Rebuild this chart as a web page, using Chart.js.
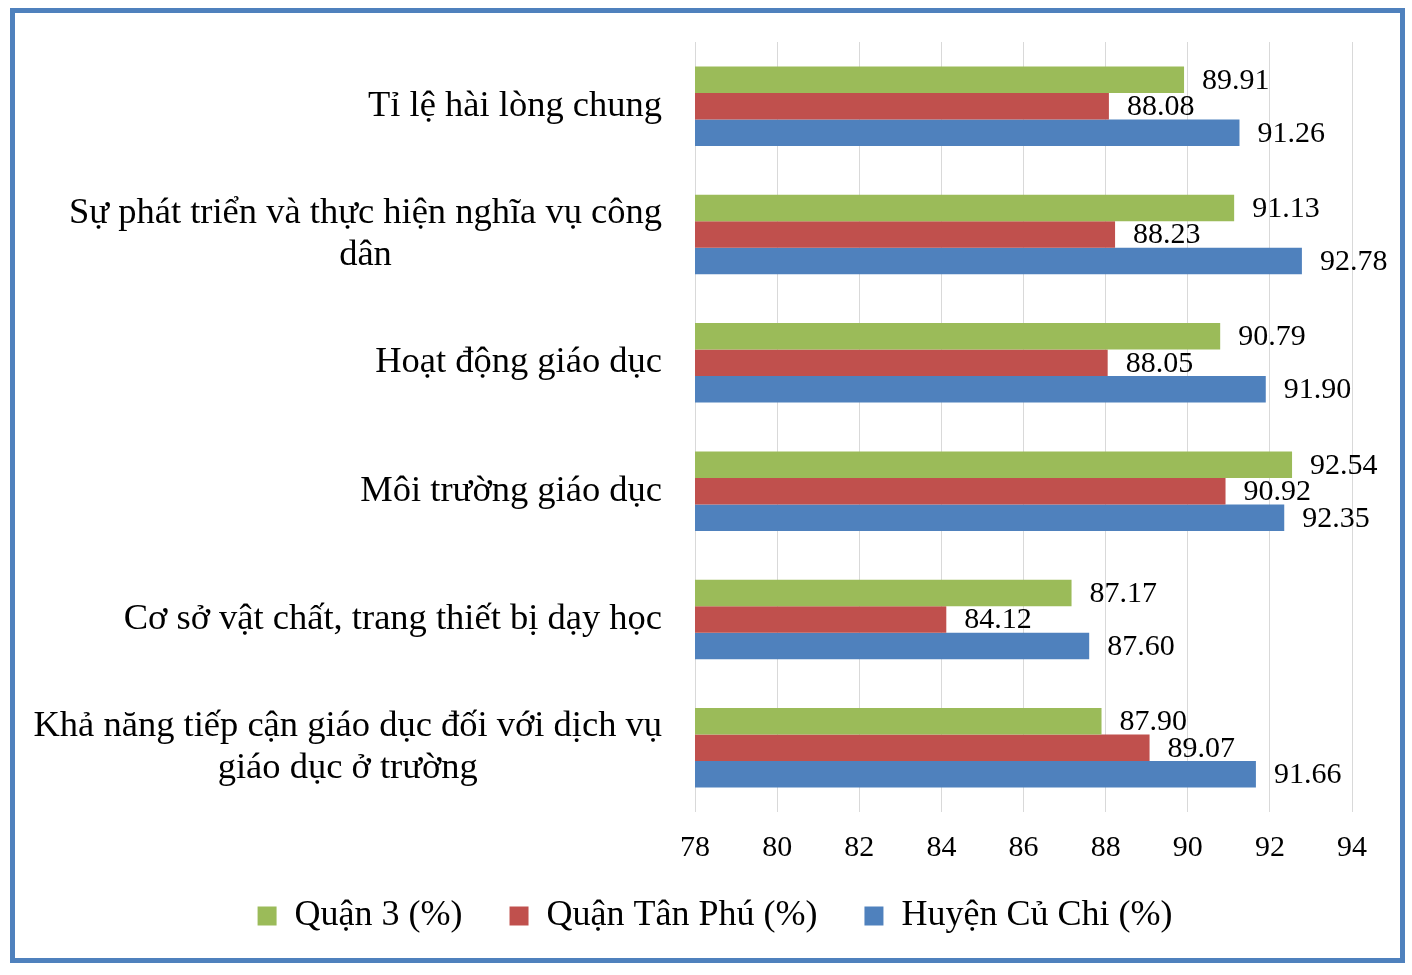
<!DOCTYPE html>
<html>
<head>
<meta charset="utf-8">
<script src="https://cdn.jsdelivr.net/npm/chart.js@4/dist/chart.umd.min.js"></script>
<style>
  html, body { margin: 0; padding: 0; background: #ffffff; }
  #wrap { position: absolute; left: 0; top: 0; width: 1412px; height: 975px; }
  #frame { position: absolute; left: 10px; top: 8px; width: 1395px; height: 955px; box-sizing: border-box; border: 5px solid #4f81bd; pointer-events: none; }
</style>
</head>
<body>
<div id="wrap"><canvas id="c" width="1412" height="975"></canvas></div>
<div id="frame"></div>
<script>
const categories = [
  "Tỉ lệ hài lòng chung",
  "Sự phát triển và thực hiện nghĩa vụ công|dân",
  "Hoạt động giáo dục",
  "Môi trường giáo dục",
  "Cơ sở vật chất, trang thiết bị dạy học",
  "Khả năng tiếp cận giáo dục đối với dịch vụ|giáo dục ở trường"
];
const seriesNames = ["Quận 3 (%)", "Quận Tân Phú (%)", "Huyện Củ Chi (%)"];
const quan3 = [89.91, 91.13, 90.79, 92.54, 87.17, 87.90];
const tanPhu = [88.08, 88.23, 88.05, 90.92, 84.12, 89.07];
const cuChi = [91.26, 92.78, 91.90, 92.35, 87.60, 91.66];
const xTicks = [78, 80, 82, 84, 86, 88, 90, 92, 94];

const FONT = "'Liberation Serif', 'Times New Roman', serif";
Chart.defaults.font.family = FONT;
Chart.defaults.color = "#000000";

const labelLines = categories.map(c => c.split("|"));

const valueLabels = {
  id: "valueLabels",
  afterDatasetsDraw(chart) {
    const ctx = chart.ctx;
    ctx.save();
    ctx.font = "30px " + FONT;
    ctx.fillStyle = "#000";
    ctx.textAlign = "left";
    ctx.textBaseline = "middle";
    chart.data.datasets.forEach((ds, di) => {
      const meta = chart.getDatasetMeta(di);
      meta.data.forEach((bar, i) => {
        ctx.fillText(ds.data[i].toFixed(2), bar.x + 18, bar.y + 1);
      });
    });
    ctx.restore();
  }
};

const categoryLabels = {
  id: "categoryLabels",
  afterDraw(chart) {
    const ctx = chart.ctx;
    const ys = chart.scales.y;
    const rightEdge = chart.chartArea.left - 33;
    const lh = 42;
    ctx.save();
    ctx.font = "36.5px " + FONT;
    ctx.fillStyle = "#000";
    ctx.textBaseline = "middle";
    ctx.textAlign = "center";
    labelLines.forEach((lines, i) => {
      const cy = ys.getPixelForValue(i);
      const w = Math.max(...lines.map(l => ctx.measureText(l).width));
      const cx = rightEdge - w / 2;
      const y0 = cy - (lines.length - 1) * lh / 2;
      lines.forEach((l, k) => ctx.fillText(l, cx, y0 + k * lh));
    });
    ctx.restore();
  }
};

const legendShift = {
  id: "legendShift",
  afterLayout(chart) {
    if (chart.legend) {
      chart.legend.top -= 17;
      chart.legend.bottom -= 17;
    }
  }
};

new Chart(document.getElementById("c"), {
  type: "bar",
  data: {
    labels: categories,
    datasets: [
      { label: seriesNames[0], data: quan3, backgroundColor: "#9bbb59" },
      { label: seriesNames[1], data: tanPhu, backgroundColor: "#c0504d" },
      { label: seriesNames[2], data: cuChi, backgroundColor: "#4f81bd" }
    ]
  },
  options: {
    indexAxis: "y",
    responsive: false,
    animation: false,
    devicePixelRatio: 1,
    layout: { padding: { top: 42, left: 18, right: 0, bottom: 14 } },
    datasets: { bar: { barPercentage: 1.0, categoryPercentage: 0.62 } },
    scales: {
      x: {
        min: 78, max: 94,
        afterBuildTicks(scale) { scale.ticks = xTicks.map(v => ({ value: v })); },
        grid: { color: "#d9d9d9", lineWidth: 1, drawTicks: false },
        border: { display: false },
        ticks: { font: { size: 30 }, color: "#000", padding: 18 },
        afterFit(scale) { scale.height = 56; }
      },
      y: {
        grid: { display: false },
        border: { display: false },
        ticks: { display: false },
        afterFit(scale) { scale.width = 677; }
      },
      y2: {
        position: "right",
        grid: { display: false },
        border: { display: false },
        ticks: { display: false },
        afterFit(scale) { scale.width = 60; }
      }
    },
    plugins: {
      legend: {
        position: "bottom",
        labels: { font: { size: 36 }, color: "#000", boxWidth: 19, boxHeight: 19, padding: 47 }
      },
      tooltip: { enabled: false }
    }
  },
  plugins: [valueLabels, categoryLabels, legendShift]
});
</script>
</body>
</html>
